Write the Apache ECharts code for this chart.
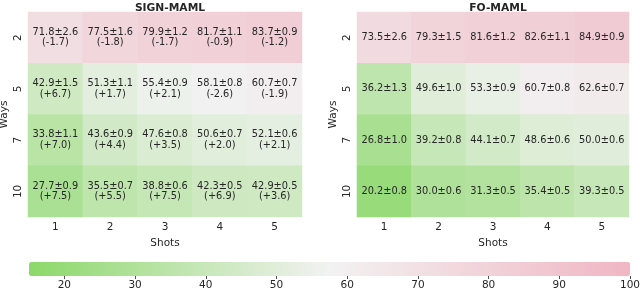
<!DOCTYPE html>
<html>
<head>
<meta charset="utf-8">
<script src="https://cdn.jsdelivr.net/npm/echarts@6/dist/echarts.min.js"></script>
<style>html,body{margin:0;padding:0;background:#fff}#c{width:640px;height:291px}</style>
</head>
<body>
<div id="c"></div>
<script>
var shots = ['1', '2', '3', '4', '5'];
var ways = ['2', '5', '7', '10'];
var titles = ['SIGN-MAML', 'FO-MAML'];
var colorTicks = [20, 30, 40, 50, 60, 70, 80, 90, 100];

var signMean = [
  [71.8, 77.5, 79.9, 81.7, 83.7],
  [42.9, 51.3, 55.4, 58.1, 60.7],
  [33.8, 43.6, 47.6, 50.6, 52.1],
  [27.7, 35.5, 38.8, 42.3, 42.9]
];
var signStd = [
  [2.6, 1.6, 1.2, 1.1, 0.9],
  [1.5, 1.1, 0.9, 0.8, 0.7],
  [1.1, 0.9, 0.8, 0.7, 0.6],
  [0.9, 0.7, 0.6, 0.5, 0.5]
];
var signDiff = [
  [-1.7, -1.8, -1.7, -0.9, -1.2],
  [6.7, 1.7, 2.1, -2.6, -1.9],
  [7.0, 4.4, 3.5, 2.0, 2.1],
  [7.5, 5.5, 7.5, 6.9, 3.6]
];
var foMean = [
  [73.5, 79.3, 81.6, 82.6, 84.9],
  [36.2, 49.6, 53.3, 60.7, 62.6],
  [26.8, 39.2, 44.1, 48.6, 50.0],
  [20.2, 30.0, 31.3, 35.4, 39.3]
];
var foStd = [
  [2.6, 1.5, 1.2, 1.1, 0.9],
  [1.3, 1.0, 0.9, 0.8, 0.7],
  [1.0, 0.8, 0.7, 0.6, 0.6],
  [0.8, 0.6, 0.5, 0.5, 0.5]
];
var colorMin = 15, colorMax = 100;

var FONT = 'DejaVu Sans';
var TXT = '#262626';

function build(mean, std, diff) {
  var out = [];
  for (var r = 0; r < ways.length; r++) {
    for (var c = 0; c < shots.length; c++) {
      var lab = mean[r][c].toFixed(1) + '±' + std[r][c].toFixed(1);
      if (diff) {
        var d = diff[r][c];
        lab += '\n(' + (d > 0 ? '+' : '') + d.toFixed(1) + ')';
      }
      out.push({value: [c, r, mean[r][c]], lab: lab});
    }
  }
  return out;
}

var grids = [
  {left: 28, top: 12, width: 274, height: 205, outerBoundsMode: 'none', containLabel: false},
  {left: 357, top: 12, width: 272, height: 205, outerBoundsMode: 'none', containLabel: false},
  {left: 29, top: 262, width: 601, height: 14, outerBoundsMode: 'none', containLabel: false}
];

function xAx(i) {
  return {
    type: 'category', gridIndex: i, data: shots, position: 'bottom',
    name: 'Shots', nameLocation: 'middle', nameGap: 18,
    nameTextStyle: {fontFamily: FONT, fontSize: 10.5, color: TXT},
    axisLine: {show: false}, axisTick: {show: false}, splitLine: {show: false},
    axisLabel: {fontFamily: FONT, fontSize: 10.5, color: TXT, margin: 5}
  };
}
function yAx(i) {
  return {
    type: 'category', gridIndex: i, data: ways, inverse: true,
    name: 'Ways', nameLocation: 'middle', nameGap: 18, nameRotate: 90,
    nameTextStyle: {fontFamily: FONT, fontSize: 10.5, color: TXT},
    axisLine: {show: false}, axisTick: {show: false}, splitLine: {show: false},
    axisLabel: {fontFamily: FONT, fontSize: 10.5, color: TXT, rotate: 90, margin: 4}
  };
}

var chart = echarts.init(document.getElementById('c'), null, {renderer: 'canvas'});
chart.setOption({
  animation: false,
  title: [
    {text: titles[0], left: 165, top: -2, textAlign: 'center',
     textStyle: {fontFamily: FONT, fontSize: 10.7, fontWeight: 'bold', color: TXT}},
    {text: titles[1], left: 493, top: -2, textAlign: 'center',
     textStyle: {fontFamily: FONT, fontSize: 10.7, fontWeight: 'bold', color: TXT}}
  ],
  grid: grids,
  xAxis: [xAx(0), xAx(1), {
    type: 'value', gridIndex: 2, min: colorMin, max: colorMax,
    axisLine: {show: false}, splitLine: {show: false},
    axisTick: {show: true, customValues: colorTicks, length: 3, lineStyle: {color: TXT, width: 0.8}},
    axisLabel: {customValues: colorTicks, fontFamily: FONT, fontSize: 10.5, color: TXT, margin: 4}
  }],
  yAxis: [yAx(0), yAx(1), {type: 'value', gridIndex: 2, show: false}],
  visualMap: {
    type: 'continuous', min: colorMin, max: colorMax, seriesIndex: [0, 1],
    orient: 'horizontal', left: 29, top: 262, itemWidth: 14, itemHeight: 601,
    calculable: false, padding: 0, text: null, showLabel: false, hoverLink: false,
    inRange: {color: ['#8cd86a', '#f2f2f2', '#f0b6c3']}
  },
  series: [
    {type: 'heatmap', xAxisIndex: 0, yAxisIndex: 0, data: build(signMean, signStd, signDiff),
     label: {show: true, fontFamily: FONT, fontSize: 9.8, color: TXT, lineHeight: 10.5,
             formatter: function (p) { return p.data.lab; }}},
    {type: 'heatmap', xAxisIndex: 1, yAxisIndex: 1, data: build(foMean, foStd, null),
     label: {show: true, fontFamily: FONT, fontSize: 9.8, color: TXT,
             formatter: function (p) { return p.data.lab; }}}
  ]
});
</script>
</body>
</html>
